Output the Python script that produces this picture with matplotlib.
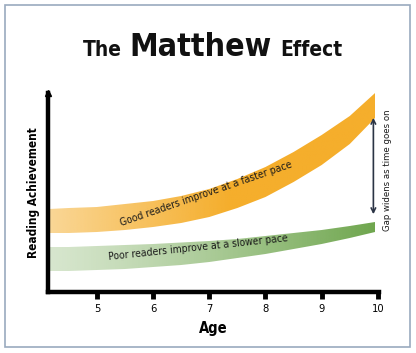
import numpy as np
import matplotlib
matplotlib.use('Agg')
import matplotlib.pyplot as plt
from matplotlib.colors import to_rgb
from matplotlib.patches import Rectangle

# Age (years) and band edges (reading achievement, arbitrary units)
age = [4.15, 4.5, 5, 5.5, 6, 6.5, 7, 7.5, 8, 8.5, 9, 9.5, 9.95]
good_top = [83, 84, 85, 88, 91, 96, 103, 113, 125, 140, 157, 176, 199]
good_bottom = [59, 59, 60, 62, 65, 69, 75, 84, 95, 110, 127, 148, 174]
poor_top = [45, 45, 46, 47, 48, 49.5, 51, 53, 56, 59, 62, 66, 70]
poor_bottom = [21, 21, 22, 23, 25, 27, 30, 34, 38, 43, 48, 54, 60]

age_ticks = [5, 6, 7, 8, 9, 10]


def gradient_band(ax, x, lo, hi, color, alphas):
    poly = ax.fill_between(x, lo, hi, color='none', lw=0)
    rgba = np.zeros((1, len(alphas), 4))
    rgba[..., :3] = to_rgb(color)
    rgba[0, :, 3] = alphas
    im = ax.imshow(rgba, extent=[x[0], x[-1], min(lo), max(hi)],
                   aspect='auto', origin='lower', zorder=2,
                   interpolation='bilinear')
    im.set_clip_path(poly.get_paths()[0], transform=ax.transData)


def main():
    plt.rcParams['font.family'] = ['DejaVu Sans']
    plt.rcParams['font.stretch'] = 'condensed'
    fig = plt.figure(figsize=(4.16, 3.53), dpi=100)

    # frame around the picture
    fig.patches.append(Rectangle((5 / 416, 6 / 353), 405 / 416, 342 / 353,
                                 transform=fig.transFigure, fill=False,
                                 ec='#9aaabf', lw=1.2))

    # title: three words, the middle one large
    base = 1 - 56 / 353
    mid = fig.text(201 / 416, base, 'Matthew', ha='center', va='baseline',
                   fontsize=23, fontweight='bold', color='#111111')
    fig.canvas.draw()
    bb = mid.get_window_extent()
    fig.text((bb.x0 - 8) / 416, base, 'The', ha='right', va='baseline',
             fontsize=15, fontweight='bold', color='#111111')
    fig.text((bb.x1 + 8) / 416, base, 'Effect', ha='left', va='baseline',
             fontsize=15, fontweight='bold', color='#111111')

    ax = fig.add_axes([48 / 416, 61 / 353, 331 / 416, 199 / 353])

    t = np.linspace(0, 1, 256)
    gradient_band(ax, age, good_bottom, good_top, '#F5AE2C',
                  np.clip(0.5 + 0.5 * t / 0.55, 0, 1))
    gradient_band(ax, age, poor_bottom, poor_top, '#6FA64E',
                  0.28 + 0.72 * t ** 1.2)

    ax.text(6.95, 98, 'Good readers improve at a faster pace', rotation=19,
            ha='center', va='center', fontsize=7.5, color='#1a1a1a',
            rotation_mode='anchor', zorder=3)
    ax.text(6.8, 44, 'Poor readers improve at a slower pace', rotation=6,
            ha='center', va='center', fontsize=7.5, color='#1a1a1a',
            rotation_mode='anchor', zorder=3)

    # gap arrow
    ax.annotate('', xy=(age[-1] - 0.03, poor_top[-1] + 5),
                xytext=(age[-1] - 0.03, good_bottom[-1] + 3),
                arrowprops=dict(arrowstyle='<->', color='#2b3445', lw=1.2,
                                mutation_scale=8), zorder=4)
    ax.text(10.18, (poor_top[-1] + good_bottom[-1]) / 2,
            'Gap widens as time goes on', rotation=90, ha='center',
            va='center', fontsize=6.8, color='#1a1a1a')

    # axes styling
    ax.set_xlim(4.13, 10.02)
    ax.set_ylim(0, 199)
    for side in ('top', 'right'):
        ax.spines[side].set_visible(False)
    for side in ('left', 'bottom'):
        ax.spines[side].set_linewidth(3.2)
        ax.spines[side].set_color('black')
    ax.plot(0, 1, '^', transform=ax.transAxes, clip_on=False, ms=4,
            color='black')

    ax.set_xticks(age_ticks)
    ax.set_xticklabels([str(a) for a in age_ticks])
    ax.set_yticks([])
    ax.tick_params(axis='x', direction='out', length=5, width=3.5,
                   labelsize=8, pad=4, color='black')
    ax.set_xlabel('Age', fontsize=10.5, fontweight='bold', labelpad=5)
    ax.set_ylabel('Reading Achievement', fontsize=8.5, fontweight='bold',
                  labelpad=6)

    fig.savefig('out.png', dpi=100)


if __name__ == '__main__':
    main()
